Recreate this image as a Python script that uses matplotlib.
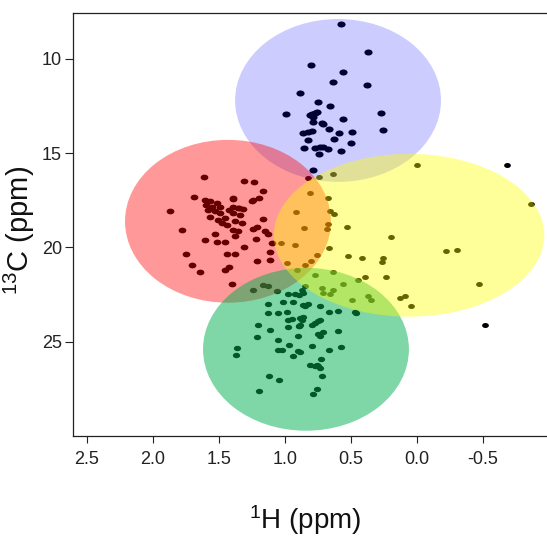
import matplotlib
matplotlib.use('Agg')
import matplotlib.pyplot as plt
from matplotlib.patches import Ellipse
from matplotlib.markers import MarkerStyle
from matplotlib.transforms import Affine2D
from matplotlib import font_manager

# peak positions (1H ppm, 13C ppm)
blue_h = [0.578, 0.373, 0.80, 0.558, 0.64, 0.381, 0.89, 0.752, 0.659, 0.995, 0.275, 0.81,
          0.773, 0.786, 0.798, 0.76, 0.786, 0.722, 0.714, 0.558, 0.664, 0.26, 0.861, 0.798,
          0.823, 0.589, 0.492, 0.823, 0.626, 0.50, 0.856, 0.773, 0.735, 0.71, 0.672, 0.74,
          0.576, 0.786]
blue_c = [8.15, 9.64, 10.33, 10.69, 11.20, 11.38, 11.79, 12.29, 12.49, 12.93, 12.85, 12.97,
          12.85, 13.06, 12.93, 12.79, 13.32, 13.38, 13.46, 13.18, 13.71, 13.76, 13.94, 13.82,
          13.85, 13.91, 13.85, 14.29, 14.26, 14.47, 14.73, 14.73, 14.65, 14.65, 14.77, 15.03,
          14.86, 15.88]

red_h = [1.614, 1.308, 1.235, 1.164, 1.687, 1.606, 1.568, 1.598, 1.555, 1.517, 1.492, 1.581,
         1.53, 1.492, 1.568, 1.505, 1.455, 1.48, 1.442, 1.422, 1.392, 1.346, 1.24, 1.20,
         1.871, 1.396, 1.252, 1.392, 1.354, 1.316, 1.392, 1.341, 1.379, 1.328, 1.169, 1.214,
         1.245, 1.152, 1.392, 1.354, 1.379, 1.127, 1.222, 1.101, 1.308, 1.114, 1.379, 1.783,
         1.606, 1.517, 1.455, 1.53, 1.75, 1.442, 1.214, 1.114, 1.702, 1.644, 1.455, 1.424,
         1.404]
red_c = [16.28, 16.45, 16.50, 17.00, 17.30, 17.47, 17.53, 17.74, 17.83, 17.65, 17.83, 18.00,
         18.09, 18.18, 18.36, 18.53, 18.44, 18.71, 18.80, 18.00, 17.43, 17.91, 17.47, 17.38,
         18.04, 17.35, 17.53, 17.83, 17.91, 17.96, 18.18, 18.27, 18.62, 18.71, 18.48, 18.89,
         19.02, 19.15, 19.06, 19.15, 19.38, 19.27, 19.54, 19.77, 20.00, 20.24, 20.33, 19.06,
         19.59, 19.71, 19.71, 19.30, 20.33, 20.32, 20.70, 20.65, 20.95, 21.30, 21.22, 21.02,
         21.92]

yellow_h = [0.74, 0.639, 0.828, 0.0, 0.81, 0.672, 0.919, 0.659, 0.629, 0.533, 0.858, 0.677,
            0.68, -0.867, 0.199, 1.03, 0.924, 0.664, 0.525, 0.417, 0.255, 0.265, -0.217,
            -0.301, 0.76, 0.983, 0.848, 0.803, 0.394, 0.445, 0.237, 0.558, -0.47, 0.089,
            0.129, 0.048, 0.369, 0.351, 0.49, 0.639, 0.773, 0.911, 0.717, 0.71, 0.634,
            0.659, 0.869, 0.848]
yellow_c = [16.28, 16.11, 16.32, 15.65, 17.12, 17.35, 18.12, 18.09, 18.21, 18.89, 18.99, 18.74,
            19.02, 17.70, 19.45, 19.77, 19.86, 20.05, 20.44, 20.57, 20.57, 20.76, 20.16,
            20.12, 20.42, 20.83, 20.95, 20.70, 21.54, 21.71, 21.57, 21.96, 21.92, 22.56,
            22.67, 23.13, 22.56, 22.81, 22.81, 21.32, 21.45, 21.18, 22.15, 22.42, 22.24,
            22.45, 22.24, 22.06]

green_h = [1.164, 1.127, 1.245, 1.063, 0.975, 0.924, 0.892, 0.861, 1.131, 1.013, 0.937, 0.848,
           0.823, 1.127, 1.051, 0.987, 0.975, 0.949, 0.886, 0.873, 0.861, 1.202, 0.886,
           1.114, 1.214, 1.051, 0.892, 0.899, 0.798, 1.366, 1.371, 1.051, 1.025, 0.967,
           0.899, 0.886, 0.942, 0.811, 0.773, 0.748, 0.735, 0.76, 1.119, 1.043, 0.76,
           0.786, 1.195, 0.464, 0.861, 0.735, 0.664, 0.601, 0.47, 0.798, 0.773, 0.748,
           0.735, 0.975, 0.892, 0.71, 0.735, 0.748, 0.596, 0.578, 0.664, 0.73, 0.717]
green_c = [21.98, 22.06, 22.28, 22.29, 22.45, 22.45, 22.51, 22.42, 22.98, 22.91, 22.91, 23.13,
           23.00, 23.48, 23.48, 23.44, 23.83, 23.79, 23.74, 23.87, 23.69, 24.10, 24.13,
           24.36, 24.75, 24.93, 24.19, 24.68, 25.25, 25.33, 25.69, 25.42, 25.42, 25.19,
           25.51, 25.56, 25.74, 26.22, 26.31, 26.31, 26.39, 26.22, 26.80, 27.01, 27.49,
           27.77, 27.59, 23.48, 23.04, 23.13, 23.44, 23.35, 23.44, 24.10, 24.01, 23.92,
           23.83, 24.22, 24.19, 24.50, 24.68, 24.57, 24.41, 25.28, 25.46, 25.91, 26.84]

other_h = [-0.68, -0.513]
other_c = [15.65, 24.13]

# shaded regions: (centre 1H, centre 13C, width, height, colour, alpha)
regions = [
    (0.598, 12.20, 1.56, 8.64, '#0000ff', 0.2),
    (1.432, 18.61, 1.56, 8.64, '#ff0000', 0.4),
    (0.841, 25.40, 1.56, 8.64, '#00b050', 0.5),
    (0.060, 19.35, 2.05, 8.64, '#ffff00', 0.4),
]

xticks = [2.5, 2.0, 1.5, 1.0, 0.5, 0.0, -0.5]
yticks = [10, 15, 20, 25]

names = {f.name for f in font_manager.fontManager.ttflist}
narrow = 'Liberation Sans Narrow' if 'Liberation Sans Narrow' in names else 'Liberation Sans'
plt.rcParams['font.family'] = [narrow, 'DejaVu Sans']

fig = plt.figure(figsize=(5.47, 5.40), dpi=100)
ax = fig.add_axes([73 / 547, 1 - 436 / 540, 1 - 73 / 547, 423 / 540])

dot = MarkerStyle('o', transform=Affine2D().scale(1.35, 1.0))
for hs, cs, sz in [(blue_h, blue_c, 19), (red_h, red_c, 17), (yellow_h, yellow_c, 13),
                   (green_h, green_c, 15), (other_h, other_c, 13)]:
    ax.scatter(hs, cs, s=sz, marker=dot, c='black', linewidths=0, zorder=1)

for cx, cy, w, h, col, a in regions:
    ax.add_patch(Ellipse((cx, cy), w, h, facecolor=col, alpha=a, edgecolor='none', zorder=2))

ax.set_xlim(2.606, -0.985)
ax.set_ylim(30.0, 7.56)
ax.set_xticks(xticks)
ax.set_xticklabels(['%.1f' % v for v in xticks])
ax.set_yticks(yticks)
ax.set_yticklabels([str(v) for v in yticks])
ax.tick_params(axis='both', direction='out', labelsize=13, colors='#222222')
ax.tick_params(axis='x', length=5, pad=6)
ax.tick_params(axis='y', length=6, pad=2)

ax.spines['right'].set_visible(False)
for s in ['left', 'top', 'bottom']:
    ax.spines[s].set_color('#222222')
    ax.spines[s].set_linewidth(0.9)

ax.set_xlabel(r'$\mathregular{^1}$H (ppm)', fontsize=20, color='#111111')
ax.xaxis.set_label_coords(0.489, -0.158)
ax.set_ylabel(r'$\mathregular{^{13}}$C (ppm)', fontsize=21, color='#111111',
              family=['Liberation Sans', 'DejaVu Sans'])
ax.yaxis.set_label_coords(-0.076, 0.487)

fig.savefig('out.png', dpi=100)
